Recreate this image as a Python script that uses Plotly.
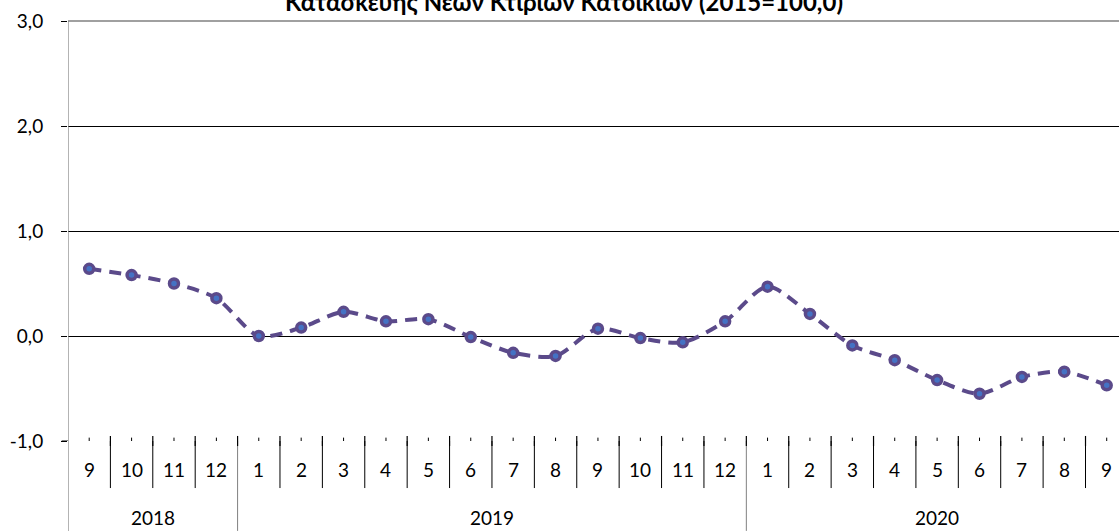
import plotly.graph_objects as go

months = ["9", "10", "11", "12", "1", "2", "3", "4", "5", "6", "7", "8", "9", "10", "11", "12",
          "1", "2", "3", "4", "5", "6", "7", "8", "9"]
years = ["2018", "2019", "2020"]
year_counts = [4, 12, 9]
values = [0.64, 0.58, 0.50, 0.36, 0.00, 0.08, 0.23, 0.14, 0.16, -0.01, -0.16, -0.19, 0.07,
          -0.02, -0.06, 0.14, 0.47, 0.21, -0.09, -0.23, -0.42, -0.55, -0.39, -0.34, -0.47]
y_ticks = [-1.0, 0.0, 1.0, 2.0, 3.0]
y_tick_text = ["-1,0", "0,0", "1,0", "2,0", "3,0"]
title_text = "Κατασκευής Νέων Κτιρίων Κατοικιών (2015=100,0)"

FONT = "Lato"
FS = 19
LINE = "#5B4A8A"
n = len(months)
xs = list(range(n))

fig = go.Figure()
fig.add_trace(go.Scatter(
    x=xs, y=values, mode="lines+markers",
    line=dict(color=LINE, width=4, dash="12px,8px", shape="spline", smoothing=0.8),
    marker=dict(size=9, color="#4472C4", line=dict(color=LINE, width=3.5)),
    hoverinfo="skip", showlegend=False, cliponaxis=False,
))

shapes = []
shapes.append(dict(type="line", xref="paper", yref="paper", x0=0, x1=1, y0=1, y1=1,
                   line=dict(color="#808080", width=1.5)))
shapes.append(dict(type="line", xref="paper", yref="y", x0=-0.006, x1=0, y0=-1, y1=-1,
                   line=dict(color="black", width=1)))
shapes.append(dict(type="line", xref="x", yref="paper", x0=-0.5, x1=-0.5, y0=-0.214, y1=1,
                   line=dict(color="#808080", width=1.2)))
bounds = [i - 0.5 for i in range(n + 1)]
year_bounds = [-0.5]
acc = -0.5
for c in year_counts:
    acc += c
    year_bounds.append(acc)
for b in bounds[1:]:
    is_year = any(abs(b - yb) < 1e-9 for yb in year_bounds)
    shapes.append(dict(type="line", xref="x", yref="paper", x0=b, x1=b,
                       y0=(-0.214 if is_year else -0.112), y1=-0.0,
                       line=dict(color="#808080" if is_year else "black", width=1)))
    shapes.append(dict(type="line", xref="x", yref="paper", x0=b, x1=b, y0=-0.012, y1=0.012,
                       line=dict(color="black", width=1.2)))
for x in xs:
    shapes.append(dict(type="line", xref="x", yref="paper", x0=x, x1=x, y0=0, y1=0.008,
                       line=dict(color="black", width=1)))

annotations = []
for x, m in zip(xs, months):
    annotations.append(dict(x=x, y=-0.069, xref="x", yref="paper", text=m, showarrow=False,
                            font=dict(family=FONT, size=FS, color="black"), yanchor="middle"))
for yb0, yb1, yr in zip(year_bounds[:-1], year_bounds[1:], years):
    annotations.append(dict(x=(yb0 + yb1) / 2, y=-0.181, xref="x", yref="paper", text=yr,
                            showarrow=False, font=dict(family=FONT, size=FS, color="black"),
                            yanchor="middle"))
annotations.append(dict(x=0.472, y=1.046, xref="paper", yref="paper", text="<b>" + title_text + "</b>",
                        showarrow=False, font=dict(family=FONT, size=24, color="black"),
                        yanchor="middle"))

fig.update_layout(
    width=1119, height=531,
    margin=dict(l=68, r=0, t=21, b=90),
    paper_bgcolor="white", plot_bgcolor="white",
    xaxis=dict(range=[-0.5, 24.29], showgrid=False, zeroline=False, showticklabels=False,
               showline=False, ticks=""),
    yaxis=dict(range=[-1, 3], tickvals=y_ticks, ticktext=y_tick_text, showgrid=True,
               gridcolor="black", gridwidth=1,
               zeroline=False, showline=False, ticks="outside", ticklen=6, tickcolor="black",
               tickfont=dict(family=FONT, size=FS, color="black"), ticklabelstandoff=14),
    shapes=shapes, annotations=annotations,
)
fig.write_html("out.html", config={"displayModeBar": False},
               post_script="document.body.style.margin='0';document.body.style.overflow='hidden';")
